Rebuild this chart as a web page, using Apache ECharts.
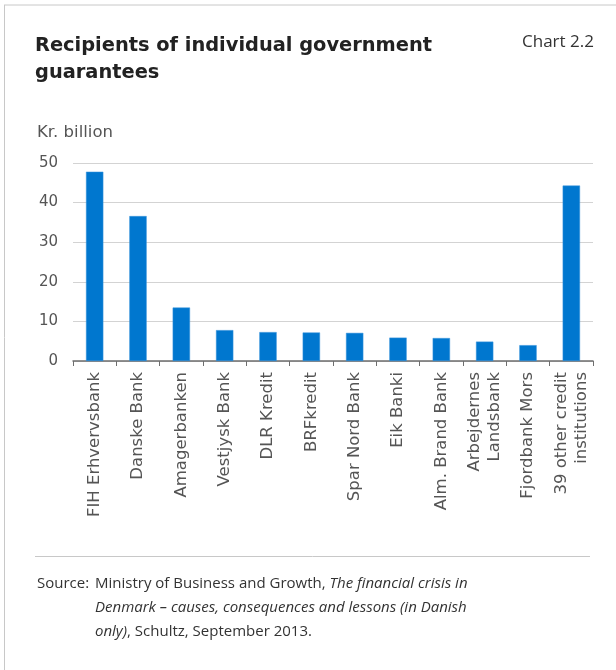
<!DOCTYPE html>
<html>
<head>
<meta charset="utf-8">
<script src="https://cdn.jsdelivr.net/npm/echarts@6/dist/echarts.min.js"></script>
<style>html,body{margin:0;padding:0;background:#fff;}#c{width:616px;height:670px;}</style>
</head>
<body>
<div id="c"></div>
<script>
const categories = ['FIH Erhvervsbank','Danske Bank','Amagerbanken','Vestjysk Bank','DLR Kredit','BRFkredit','Spar Nord Bank','Eik Banki','Alm. Brand Bank','Arbejdernes\nLandsbank','Fjordbank Mors','39 other credit\ninstitutions'];
const values = [47.8, 36.6, 13.5, 7.8, 7.3, 7.2, 7.1, 5.9, 5.8, 4.9, 4.0, 44.3];
const yTicks = [0, 10, 20, 30, 40, 50];

const FONT = '"Open Sans", "Noto Sans", sans-serif';
const AXFONT = '"DejaVu Sans", sans-serif';
const chart = echarts.init(document.getElementById('c'), null, {renderer: 'canvas'});
chart.setOption({
  animation: false,
  backgroundColor: '#fff',
  grid: {left: 73, right: 23, top: 163, bottom: 309, containLabel: false},
  xAxis: {
    type: 'category',
    data: categories,
    axisLine: {lineStyle: {color: '#6e6e6e', width: 1.5}},
    axisTick: {show: true, length: 5, lineStyle: {color: '#6e6e6e'}},
    axisLabel: {rotate: 90, color: '#555', fontSize: 16.5, fontFamily: AXFONT, margin: 11, interval: 0, lineHeight: 20, align: 'right'}
  },
  yAxis: {
    type: 'value',
    min: yTicks[0], max: yTicks[yTicks.length - 1], interval: 10,
    axisLine: {show: false},
    axisTick: {show: false},
    axisLabel: {color: '#555', fontSize: 15, fontFamily: AXFONT, margin: 15},
    splitLine: {lineStyle: {color: '#d3d3d3', width: 1}}
  },
  series: [{
    type: 'bar',
    data: values,
    barWidth: '40%',
    itemStyle: {color: '#0077CF', borderColor: '#3a95dc', borderWidth: 0.5}
  }],
  graphic: [
    {type: 'line', shape: {x1: 4, y1: 5, x2: 616, y2: 5}, style: {stroke: '#c8c8c8', lineWidth: 1}},
    {type: 'line', shape: {x1: 4.5, y1: 5, x2: 4.5, y2: 670}, style: {stroke: '#c8c8c8', lineWidth: 1}},
    {type: 'text', left: 35, top: 32, style: {text: 'Recipients of individual government\nguarantees', font: 'bold 19.4px "DejaVu Sans", sans-serif', fill: '#222', lineHeight: 27}},
    {type: 'text', left: 522, top: 34, style: {text: 'Chart 2.2', font: '17px ' + FONT, fill: '#333'}},
    {type: 'text', left: 37, top: 124, style: {text: 'Kr. billion', font: '16.5px ' + AXFONT, fill: '#555'}},
    {type: 'line', shape: {x1: 35, y1: 556.5, x2: 590, y2: 556.5}, style: {stroke: '#c8c8c8', lineWidth: 1}},
    {type: 'text', left: 37, top: 572, style: {text: 'Source:', font: '15px ' + FONT, fill: '#333', lineHeight: 24}},
    {type: 'text', left: 95, top: 572, style: {
      text: 'Ministry of Business and Growth, {i|The financial crisis in}\n{i|Denmark – causes, consequences and lessons (in Danish}\n{i|only)}, Schultz, September 2013.',
      font: '15px ' + FONT, fill: '#333', lineHeight: 24,
      rich: {i: {fontStyle: 'italic', fontSize: 15, fontFamily: FONT, fill: '#333', lineHeight: 24}}
    }}
  ]
});
</script>
</body>
</html>
